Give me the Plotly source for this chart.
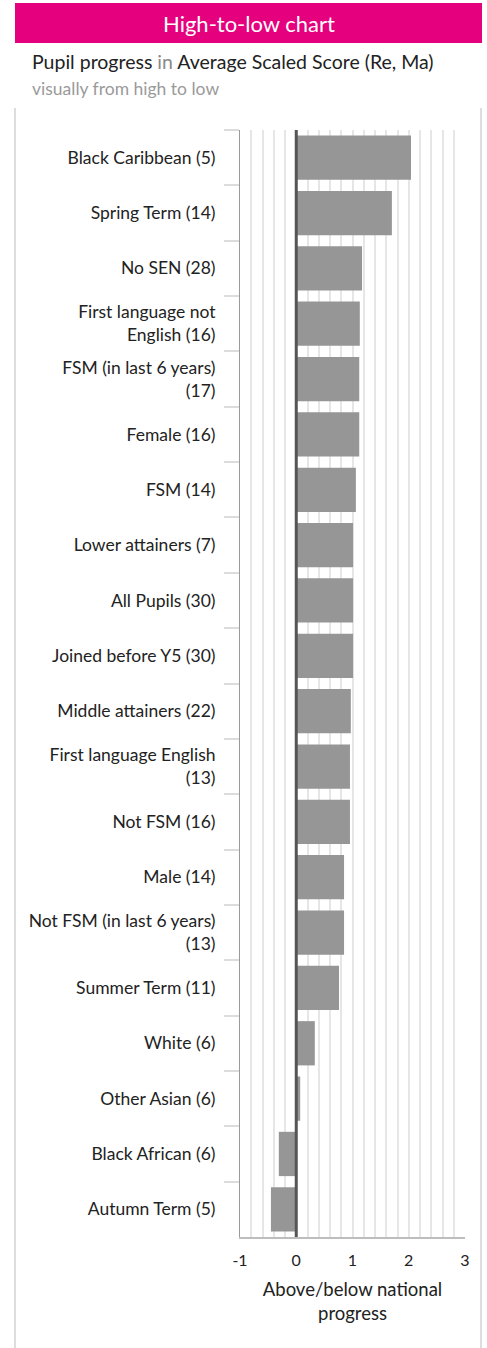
import plotly.graph_objects as go

# ---- data ----
categories = [
    "Black Caribbean (5)",
    "Spring Term (14)",
    "No SEN (28)",
    "First language not<br>English (16)",
    "FSM (in last 6 years)<br>(17)",
    "Female (16)",
    "FSM (14)",
    "Lower attainers (7)",
    "All Pupils (30)",
    "Joined before Y5 (30)",
    "Middle attainers (22)",
    "First language English<br>(13)",
    "Not FSM (16)",
    "Male (14)",
    "Not FSM (in last 6 years)<br>(13)",
    "Summer Term (11)",
    "White (6)",
    "Other Asian (6)",
    "Black African (6)",
    "Autumn Term (5)",
]
values = [2.04, 1.70, 1.17, 1.13, 1.12, 1.12, 1.06, 1.01, 1.01, 1.01,
          0.97, 0.955, 0.955, 0.85, 0.85, 0.76, 0.33, 0.07, -0.31, -0.45]
x_ticks = [-1, 0, 1, 2, 3]
x_tick_text = ["-1", "0", "1", "2", "3"]

title_text = "High-to-low chart"
subtitle_text = "Pupil progress <span style='color:#8a8a8a'>in</span> Average Scaled Score (Re, Ma)"
subtitle2_text = "visually from high to low"
x_title = "Above/below national<br>progress"

# ---- layout helpers ----
W, H = 487, 1348
FONT = "Lato, 'Open Sans', sans-serif"


def px(x):
    return x / W


def py(y):
    return 1 - y / H


fig = go.Figure(
    go.Bar(
        x=values,
        y=categories,
        orientation="h",
        width=0.8,
        marker=dict(color="#969696", line=dict(width=0)),
        hoverinfo="skip",
    )
)

fig.update_layout(
    width=W,
    height=H,
    margin=dict(l=0, r=0, t=0, b=0),
    paper_bgcolor="white",
    plot_bgcolor="white",
    showlegend=False,
    font=dict(family=FONT, color="#222222", size=15),
    xaxis=dict(
        domain=[px(240), px(465)],
        range=[-1, 3],
        tickmode="array",
        tickvals=x_ticks,
        ticktext=x_tick_text,
        ticks="",
        showgrid=True,
        gridcolor="#e6e6e6",
        gridwidth=1.5,
        minor=dict(tickmode="linear", tick0=0, dtick=0.2, showgrid=True,
                   gridcolor="#e6e6e6", gridwidth=1.5, ticks=""),
        zeroline=False,
        showline=True,
        linecolor="#bdbdbd",
        linewidth=1.5,
        tickfont=dict(size=16, color="#222222"),
        ticklabelstandoff=8,
        title=dict(text=x_title, font=dict(size=18.5, color="#222222"), standoff=15),
        automargin=False,
        fixedrange=True,
    ),
    yaxis=dict(
        domain=[py(1237), py(130)],
        type="category",
        autorange="reversed",
        tickson="boundaries",
        ticks="outside",
        ticklen=15,
        tickwidth=1.5,
        tickcolor="#dcdcdc",
        showline=True,
        linecolor="#9a9a9a",
        linewidth=1,
        showgrid=False,
        zeroline=False,
        tickfont=dict(size=17.5, color="#222222"),
        ticklabelstandoff=20,
        automargin=False,
        fixedrange=True,
    ),
    shapes=[
        # header band
        dict(type="rect", xref="paper", yref="paper",
             x0=px(15), x1=px(482), y0=py(43), y1=py(3),
             fillcolor="#E5007E", line=dict(width=0), layer="below"),
        # card side borders
        dict(type="line", xref="paper", yref="paper",
             x0=px(15), x1=px(15), y0=py(108), y1=0,
             line=dict(color="#dddddd", width=2)),
        dict(type="line", xref="paper", yref="paper",
             x0=px(481), x1=px(481), y0=py(108), y1=0,
             line=dict(color="#dddddd", width=2)),
        # zero reference line above bars
        dict(type="line", xref="x", yref="y domain",
             x0=0, x1=0, y0=0, y1=1,
             line=dict(color="#555555", width=3), layer="above"),
    ],
    annotations=[
        dict(text=title_text, xref="paper", yref="paper",
             x=px(248.5), y=py(23), xanchor="center", yanchor="middle",
             showarrow=False, font=dict(size=22, color="white", family=FONT)),
        dict(text=subtitle_text, xref="paper", yref="paper",
             x=px(30), y=py(62), xanchor="left", yanchor="middle",
             showarrow=False, font=dict(size=19.5, color="#222222", family=FONT)),
        dict(text=subtitle2_text, xref="paper", yref="paper",
             x=px(30), y=py(88), xanchor="left", yanchor="middle",
             showarrow=False, font=dict(size=17.5, color="#9a9a9a", family=FONT)),
    ],
)

fig.write_html("out.html", config={"displayModeBar": False},
               post_script="document.body.style.margin='0';")
